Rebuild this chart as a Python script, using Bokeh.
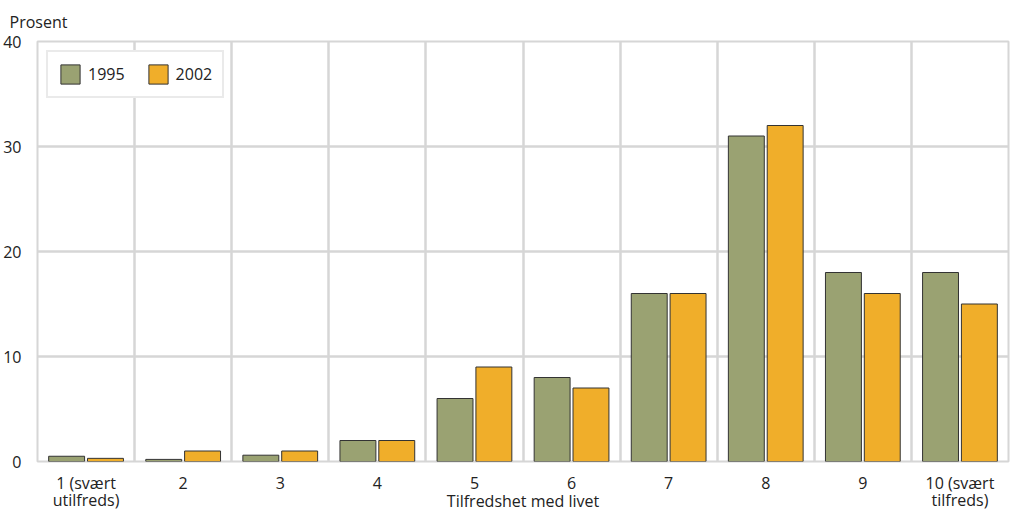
from bokeh.plotting import figure
from bokeh.models import Range1d, FixedTicker, ColumnDataSource, Legend, LegendItem
from bokeh.transform import dodge
from bokeh.embed import file_html
from bokeh.resources import INLINE

categories = ["1 (svært\nutilfreds)", "2", "3", "4", "5", "6", "7", "8", "9", "10 (svært\ntilfreds)"]
positions = [1, 2, 3, 4, 5, 6, 7, 8, 9, 10]
values_1995 = [0.5, 0.2, 0.6, 2, 6, 8, 16, 31, 18, 18]
values_2002 = [0.3, 1.0, 1.0, 2, 9, 7, 16, 32, 16, 15]
y_ticks = [0, 10, 20, 30, 40]
x_title = "Tilfredshet med livet"

FONT = "Open Sans"
TXT = "#222222"
GRID = "#d6d6d6"
C1995 = "#9aa272"
C2002 = "#f0ae2a"

src = ColumnDataSource(dict(x=positions, v1995=values_1995, v2002=values_2002))

p = figure(width=1010, height=515, output_backend="svg", toolbar_location=None,
           x_range=Range1d(0.5, 10.5), y_range=Range1d(0, 40),
           min_border_left=32, min_border_right=2, min_border_top=0, min_border_bottom=0)

p.title.text = "Prosent"
p.title.text_font = FONT
p.title.text_font_size = "16px"
p.title.text_font_style = "normal"
p.title.text_color = TXT
p.title.align = "left"
p.title.offset = -28
p.title.standoff = 17

p.outline_line_color = GRID
p.outline_line_width = 2

# axes
p.xaxis.ticker = FixedTicker(ticks=positions)
p.xaxis.major_label_overrides = {pos: lab for pos, lab in zip(positions, categories)}
p.yaxis.ticker = FixedTicker(ticks=y_ticks)
for ax in (p.xaxis[0], p.yaxis[0]):
    ax.axis_line_color = None
    ax.major_tick_line_color = None
    ax.minor_tick_line_color = None
    ax.major_label_text_font = FONT
    ax.major_label_text_font_size = "16px"
    ax.major_label_text_color = TXT
p.xaxis.major_label_standoff = 4
p.xaxis.major_label_text_line_height = 0.8
p.yaxis.major_label_standoff = 10
p.xaxis.axis_label = x_title
p.xaxis.axis_label_text_font = FONT
p.xaxis.axis_label_text_font_size = "16px"
p.xaxis.axis_label_text_font_style = "normal"
p.xaxis.axis_label_text_color = TXT
p.xaxis.axis_label_standoff = -24

# grids
p.xgrid.ticker = FixedTicker(ticks=[i + 0.5 for i in range(0, 11)])
p.ygrid.ticker = FixedTicker(ticks=y_ticks)
for g in (p.xgrid[0], p.ygrid[0]):
    g.grid_line_color = GRID
    g.grid_line_width = 2.5

r1 = p.vbar(x=dodge("x", -0.2, range=p.x_range), top="v1995", width=0.37, source=src,
            fill_color=C1995, line_color="#333333", line_width=1)
r2 = p.vbar(x=dodge("x", 0.2, range=p.x_range), top="v2002", width=0.37, source=src,
            fill_color=C2002, line_color="#333333", line_width=1)

legend = Legend(items=[LegendItem(label="1995", renderers=[r1]), LegendItem(label="2002", renderers=[r2])],
                location="top_left", orientation="horizontal")
legend.label_text_font = FONT
legend.label_text_font_size = "16px"
legend.label_text_color = TXT
legend.glyph_width = 24
legend.glyph_height = 24
legend.label_standoff = 6
legend.spacing = 21
legend.padding = 10
legend.margin = 9
legend.border_line_color = GRID
legend.border_line_width = 2
legend.background_fill_alpha = 1
p.add_layout(legend)

open("out.html", "w").write(file_html(p, INLINE))
